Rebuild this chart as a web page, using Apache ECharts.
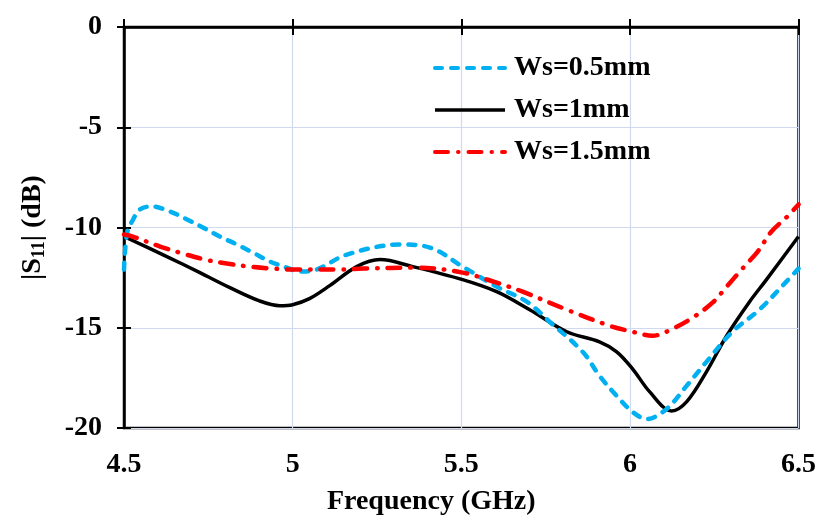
<!DOCTYPE html>
<html><head><meta charset="utf-8">
<script src="https://cdn.jsdelivr.net/npm/echarts@6/dist/echarts.min.js"></script>
<style>html,body{margin:0;padding:0;background:#fff}#c{width:819px;height:521px}</style>
</head><body><div id="c"></div>
<script>
var seriesNames = ['Ws=0.5mm', 'Ws=1mm', 'Ws=1.5mm'];
var xTicks = [4.5, 5, 5.5, 6, 6.5];
var yTicks = [-20, -15, -10, -5, 0];

var ws05 = [[4.5,-12.1],[4.509,-10.3],[4.527,-9.6],[4.547,-9.1],[4.583,-8.95],[4.636,-9.2],[4.687,-9.6],[4.734,-10.0],[4.784,-10.45],[4.835,-10.85],[4.882,-11.25],[4.933,-11.7],[4.983,-12.0],[5.021,-12.2],[5.06,-12.15],[5.161,-11.35],[5.318,-10.85],[5.407,-11.0],[5.504,-11.95],[5.605,-12.95],[5.694,-13.7],[5.762,-14.7],[5.86,-16.2],[5.91,-17.4],[5.961,-18.4],[6.008,-19.2],[6.05,-19.55],[6.109,-19.05],[6.168,-17.9],[6.227,-16.7],[6.304,-15.2],[6.384,-14.1],[6.464,-12.7],[6.5,-12.05]];
var ws1 = [[4.5,-10.45],[4.627,-11.45],[4.725,-12.25],[4.814,-13.0],[4.9,-13.65],[4.962,-13.9],[5.0,-13.85],[5.05,-13.55],[5.11,-12.9],[5.19,-11.95],[5.259,-11.6],[5.356,-11.95],[5.504,-12.6],[5.605,-13.2],[5.703,-14.1],[5.813,-15.2],[5.91,-15.7],[5.961,-16.2],[6.008,-17.05],[6.059,-18.2],[6.124,-19.15],[6.168,-18.7],[6.227,-17.2],[6.287,-15.4],[6.355,-13.7],[6.405,-12.6],[6.5,-10.45]];
var ws15 = [[4.5,-10.35],[4.526,-10.45],[4.607,-10.95],[4.675,-11.3],[4.74,-11.6],[4.805,-11.8],[4.873,-11.95],[4.941,-12.05],[5.013,-12.1],[5.14,-12.1],[5.208,-12.05],[5.368,-12.0],[5.504,-12.25],[5.605,-12.75],[5.682,-13.2],[5.813,-14.1],[5.94,-14.9],[6.008,-15.2],[6.067,-15.4],[6.127,-15.05],[6.186,-14.5],[6.245,-13.75],[6.287,-12.95],[6.331,-12.1],[6.379,-11.2],[6.42,-10.2],[6.467,-9.45],[6.5,-8.85]];

var FONT = '"Times New Roman","Liberation Serif",serif';
var chart = echarts.init(document.getElementById('c'));
var base = {type:'value', min:xTicks[0], max:xTicks[xTicks.length-1], interval:0.5};
var ybase = {type:'value', min:yTicks[0], max:yTicks[yTicks.length-1], interval:5};
chart.setOption({
  animation:false,
  backgroundColor:'#fff',
  grid:{left:124, right:20, top:27, bottom:92, show:true, borderColor:'#000', borderWidth:2.5, backgroundColor:'transparent'},
  legend:{
    orient:'vertical', left:428, top:49, itemWidth:70, itemHeight:20, itemGap:14,
    itemStyle:{opacity:0},
    data:[
      {name:seriesNames[0], lineStyle:{width:4}},
      {name:seriesNames[1], lineStyle:{width:3.5}},
      {name:seriesNames[2], lineStyle:{width:4}}
    ],
    textStyle:{fontFamily:FONT, fontWeight:'bold', fontSize:28, color:'#000', padding:[0,0,0,4]}
  },
  xAxis:[
    Object.assign({}, base, {
      name:'Frequency (GHz)', nameLocation:'middle', nameGap:60,
      nameTextStyle:{fontFamily:FONT, fontWeight:'bold', fontSize:28, color:'#000', padding:[0,60,0,0]},
      axisLine:{show:true, lineStyle:{color:'#000', width:2.5}},
      axisTick:{show:true, inside:false, length:8, lineStyle:{color:'#000', width:2}},
      axisLabel:{fontFamily:FONT, fontWeight:'bold', fontSize:28, color:'#000', margin:23},
      splitLine:{show:true, lineStyle:{color:'#cfdaee', width:1.2}}
    }),
    Object.assign({}, base, {
      position:'bottom', axisLine:{show:false},
      axisTick:{show:true, inside:true, length:8, lineStyle:{color:'#000', width:2}},
      axisLabel:{show:false}, splitLine:{show:false}
    })
  ],
  yAxis:[
    Object.assign({}, ybase, {
      name:'{n||S}{s|11}{n|| (dB)}', nameLocation:'middle', nameGap:76,
      nameTextStyle:{
        rich:{
          n:{fontFamily:FONT, fontWeight:'bold', fontSize:28, color:'#000'},
          s:{fontFamily:FONT, fontWeight:'bold', fontSize:18, color:'#000', padding:[12,0,0,0]}
        }
      },
      axisLine:{show:true, lineStyle:{color:'#000', width:2.5}},
      axisTick:{show:true, inside:false, length:7, lineStyle:{color:'#000', width:2}},
      axisLabel:{fontFamily:FONT, fontWeight:'bold', fontSize:28, color:'#000', margin:22},
      splitLine:{show:true, lineStyle:{color:'#cfdaee', width:1.2}}
    }),
    Object.assign({}, ybase, {
      position:'left', axisLine:{show:false},
      axisTick:{show:true, inside:true, length:7, lineStyle:{color:'#000', width:2}},
      axisLabel:{show:false}, splitLine:{show:false}
    })
  ],
  series:[
    {name:seriesNames[0], type:'line', data:ws05, smooth:0.35, showSymbol:false, symbol:'none', z:3,
     lineStyle:{color:'#00b0f0', width:4.5, type:[7,9], cap:'round'}, itemStyle:{color:'#00b0f0'}},
    {name:seriesNames[1], type:'line', data:ws1, smooth:0.35, showSymbol:false, symbol:'none', z:2,
     lineStyle:{color:'#000', width:3.5}, itemStyle:{color:'#000'}},
    {name:seriesNames[2], type:'line', data:ws15, smooth:0.35, showSymbol:false, symbol:'none', z:4,
     lineStyle:{color:'#ff0000', width:4.5, type:[13,10,0.5,10], cap:'round'}, itemStyle:{color:'#ff0000'}}
  ]
});
</script></body></html>
